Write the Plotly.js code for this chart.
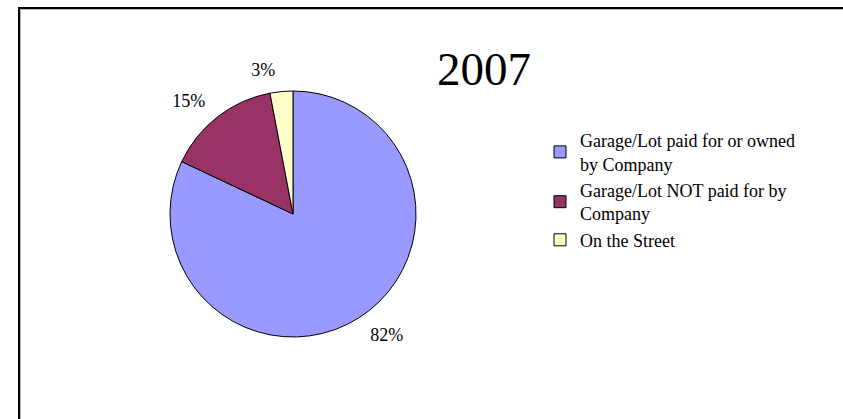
<!DOCTYPE html>
<html>
<head>
<meta charset="utf-8">
<script src="https://cdn.plot.ly/plotly-3.0.1.min.js"></script>
<style>
html,body{margin:0;padding:0;background:#fff;}
#wrap{position:relative;width:843px;height:419px;overflow:hidden;}
#frame{position:absolute;left:18px;top:7px;width:900px;height:500px;border-left:2px solid #000;border-top:2px solid #000;box-shadow:inset 1px 1px 0 #bbb;box-sizing:border-box;pointer-events:none;z-index:5;}
#chart{position:absolute;left:0;top:0;width:843px;height:419px;}
</style>
</head>
<body>
<div id="wrap"><div id="chart"></div><div id="frame"></div></div>
<script>
const categories = ["Garage/Lot paid for or owned<br>by Company", "Garage/Lot NOT paid for by<br>Company", "On the Street"];
const values = [82, 15, 3];
const sliceLabels = ["82%", "15%", "3%"];
const colors = ["#9999FF", "#993366", "#FFFFCC"];
const titleText = "2007";

const W = 843, H = 419;
const cx = 293, cy = 214, r = 123, rLabel = 135;
const FONT = "Liberation Serif, Times New Roman, serif";

const pie = {
  type: "pie",
  labels: categories,
  values: values,
  textinfo: "none",
  sort: false,
  direction: "clockwise",
  rotation: 0,
  marker: {colors: colors, line: {color: "#000", width: 1}},
  domain: {x: [(cx - r) / W, (cx + r) / W], y: [1 - (cy + r) / H, 1 - (cy - r) / H]},
  automargin: false,
  hoverinfo: "none"
};
// label-only pie (same values) slightly larger so the outside labels sit off the edge
const labelPie = {
  type: "pie",
  labels: categories,
  values: values,
  text: sliceLabels,
  textinfo: "text",
  textposition: "outside",
  sort: false,
  direction: "clockwise",
  rotation: 0,
  showlegend: false,
  marker: {colors: ["rgba(0,0,0,0)", "rgba(0,0,0,0)", "rgba(0,0,0,0)"], line: {width: 0}},
  outsidetextfont: {family: FONT, size: 18, color: "#000"},
  domain: {x: [(cx - rLabel) / W, (cx + rLabel) / W], y: [1 - (cy + rLabel) / H, 1 - (cy - rLabel) / H]},
  automargin: false,
  hoverinfo: "none"
};
const layout = {
  width: W, height: H,
  margin: {l: 0, r: 0, t: 0, b: 0},
  paper_bgcolor: "#fff",
  showlegend: true,
  title: {text: titleText, x: 484 / W, xanchor: "center", y: 1 - 69 / H, yanchor: "middle",
          font: {family: FONT, size: 47, color: "#000"}},
  legend: {x: 540 / W, y: 1 - 122 / H, xanchor: "left", yanchor: "top",
           font: {family: FONT, size: 18, color: "#000"},
           bgcolor: "rgba(0,0,0,0)", tracegroupgap: 0},
};
Plotly.newPlot("chart", [pie, labelPie], layout, {displayModeBar: false, staticPlot: true});
</script>
</body>
</html>
